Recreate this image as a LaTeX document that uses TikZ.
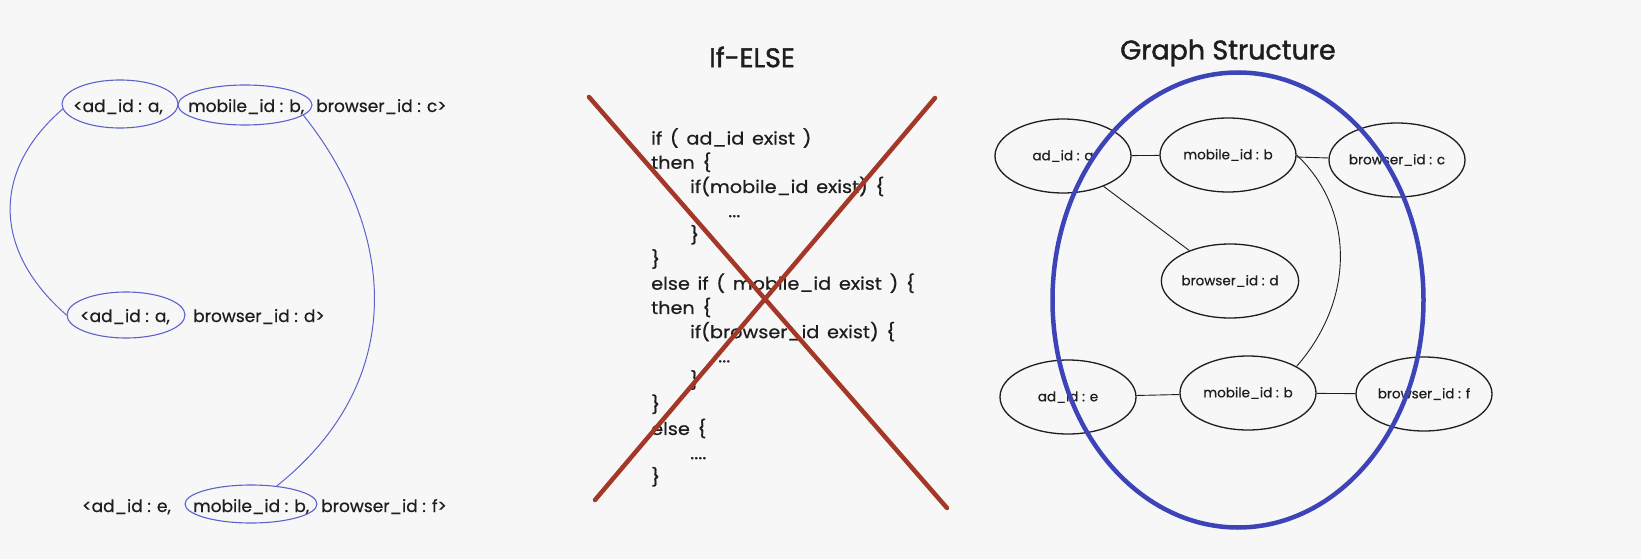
\documentclass[tikz,border=0pt]{standalone}
\usepackage{fontspec}
\setmainfont{Poppins}[FakeBold=0.6]
\newfontfamily\codefont{Poppins}[WordSpace=1.5, FakeStretch=1.1, FakeBold=0.6]
\newfontfamily\titlefont{Poppins}[FakeBold=1.6]
\usetikzlibrary{shapes.geometric, positioning}
\definecolor{paper}{RGB}{247,247,247}
\definecolor{inkblue}{RGB}{92,98,204}
\definecolor{ringblue}{RGB}{60,68,184}
\definecolor{crossred}{RGB}{163,56,40}
\definecolor{ink}{RGB}{30,30,30}

\begin{document}
\begin{tikzpicture}[x=1pt, y=-1pt,
	tuple/.style={anchor=base west, inner sep=0pt, text=ink,
		font=\fontsize{17}{20}\selectfont},
	hoop/.style={ellipse, draw=inkblue, line width=1.1pt, inner sep=0pt},
	tie/.style={draw=inkblue, line width=1pt},
	headline/.style={text=ink, font=\titlefont\fontsize{27}{32}\selectfont},
	code/.style={anchor=north west, align=left, inner sep=0pt, text=ink,
		font=\codefont\fontsize{17.5}{24.2}\selectfont},
	strike/.style={draw=crossred, line width=4.5pt, line cap=round},
	idnode/.style={ellipse, draw=ink, line width=1.3pt,
		minimum width=136pt, minimum height=74pt, inner sep=0pt,
		text=ink, font=\fontsize{13.5}{16}\selectfont},
	link/.style={draw=ink, line width=0.9pt},
	ring/.style={ellipse, draw=ringblue, line width=4.5pt,
		minimum width=371pt, minimum height=455pt}
	]
	\fill[paper] (0,0) rectangle (1641,559);
	\useasboundingbox (0,0) rectangle (1641,559);
	
	% tuples
	\node[tuple] (r1a) at (73,112)  {<ad\_id : a,};
	\node[tuple] (r1b) at (188,112) {mobile\_id : b,};
	\node[tuple] (r1c) at (316,112) {browser\_id : c>};
	\node[tuple] (r2a) at (80,322)  {<ad\_id : a,};
	\node[tuple] (r2b) at (193,322) {browser\_id : d>};
	\node[tuple] (r3a) at (82,512)  {<ad\_id : e,};
	\node[tuple] (r3b) at (193,512) {mobile\_id : b,};
	\node[tuple] (r3c) at (321,512) {browser\_id : f>};
	
	\node[hoop, minimum width=116pt, minimum height=48pt] (h1) at (120,104) {};
	\node[hoop, minimum width=134pt, minimum height=40pt] (h2) at (245,105) {};
	\node[hoop, minimum width=118pt, minimum height=46pt] (h3) at (126,315) {};
	\node[hoop, minimum width=132pt, minimum height=38pt] (h4) at (251,504) {};
	
	\draw[tie] (h1.185) .. controls (-8,170) and (-8,250) .. (h3.west);
	\draw[tie] (h2.-10) .. controls (395,230) and (410,380) .. (h4.35);
	
	% if-else
	\node[headline] (ifelse) at (752,57) {If-ELSE};
	\node[code] (branch) at (651,128) {if ( ad\_id exist )\\
		then \{\\
		\hspace*{39pt}if(mobile\_id exist) \{\\
		\hspace*{77pt}...\\
		\hspace*{39pt}\}\\
		\}\\
		else if ( mobile\_id exist ) \{\\
		then \{\\
		\hspace*{39pt}if(browser\_id exist) \{\\
		\hspace*{67pt}...\\
		\hspace*{39pt}\}\\
		\}\\
		else \{\\
		\hspace*{39pt}....\\
		\}};
	
	\coordinate (xtl) at (589,97);
	\coordinate (xbr) at (947,508);
	\coordinate (xtr) at (935,98);
	\coordinate (xbl) at (595,500);
	\draw[strike] (xtl) -- (xbr);
	\draw[strike] (xtr) -- (xbl);
	
	% graph
	\node[headline] (graphtitle) at (1228,53) {Graph Structure};
	\node[idnode] (ga)  at (1063,156) {ad\_id : a};
	\node[idnode] (gb)  at (1228,155) {mobile\_id : b};
	\node[idnode] (gc)  at (1397,160) {browser\_id : c};
	\node[idnode] (gd)  at (1230,281) {browser\_id : d};
	\node[idnode] (ge)  at (1068,397) {ad\_id : e};
	\node[idnode] (gb2) at (1248,393) {mobile\_id : b};
	\node[idnode] (gf)  at (1424,394) {browser\_id : f};
	
	\draw[link] (ga)  -- (gb);
	\draw[link] (gb)  -- (gc);
	\draw[link] (ga)  -- (gd);
	\draw[link] (ge)  -- (gb2);
	\draw[link] (gb2) -- (gf);
	\draw[link] (gb.east) .. controls (1355,210) and (1355,300) .. (gb2.north east);
	
	\node[ring] (group) at (1238,300) {};
\end{tikzpicture}
\end{document}
